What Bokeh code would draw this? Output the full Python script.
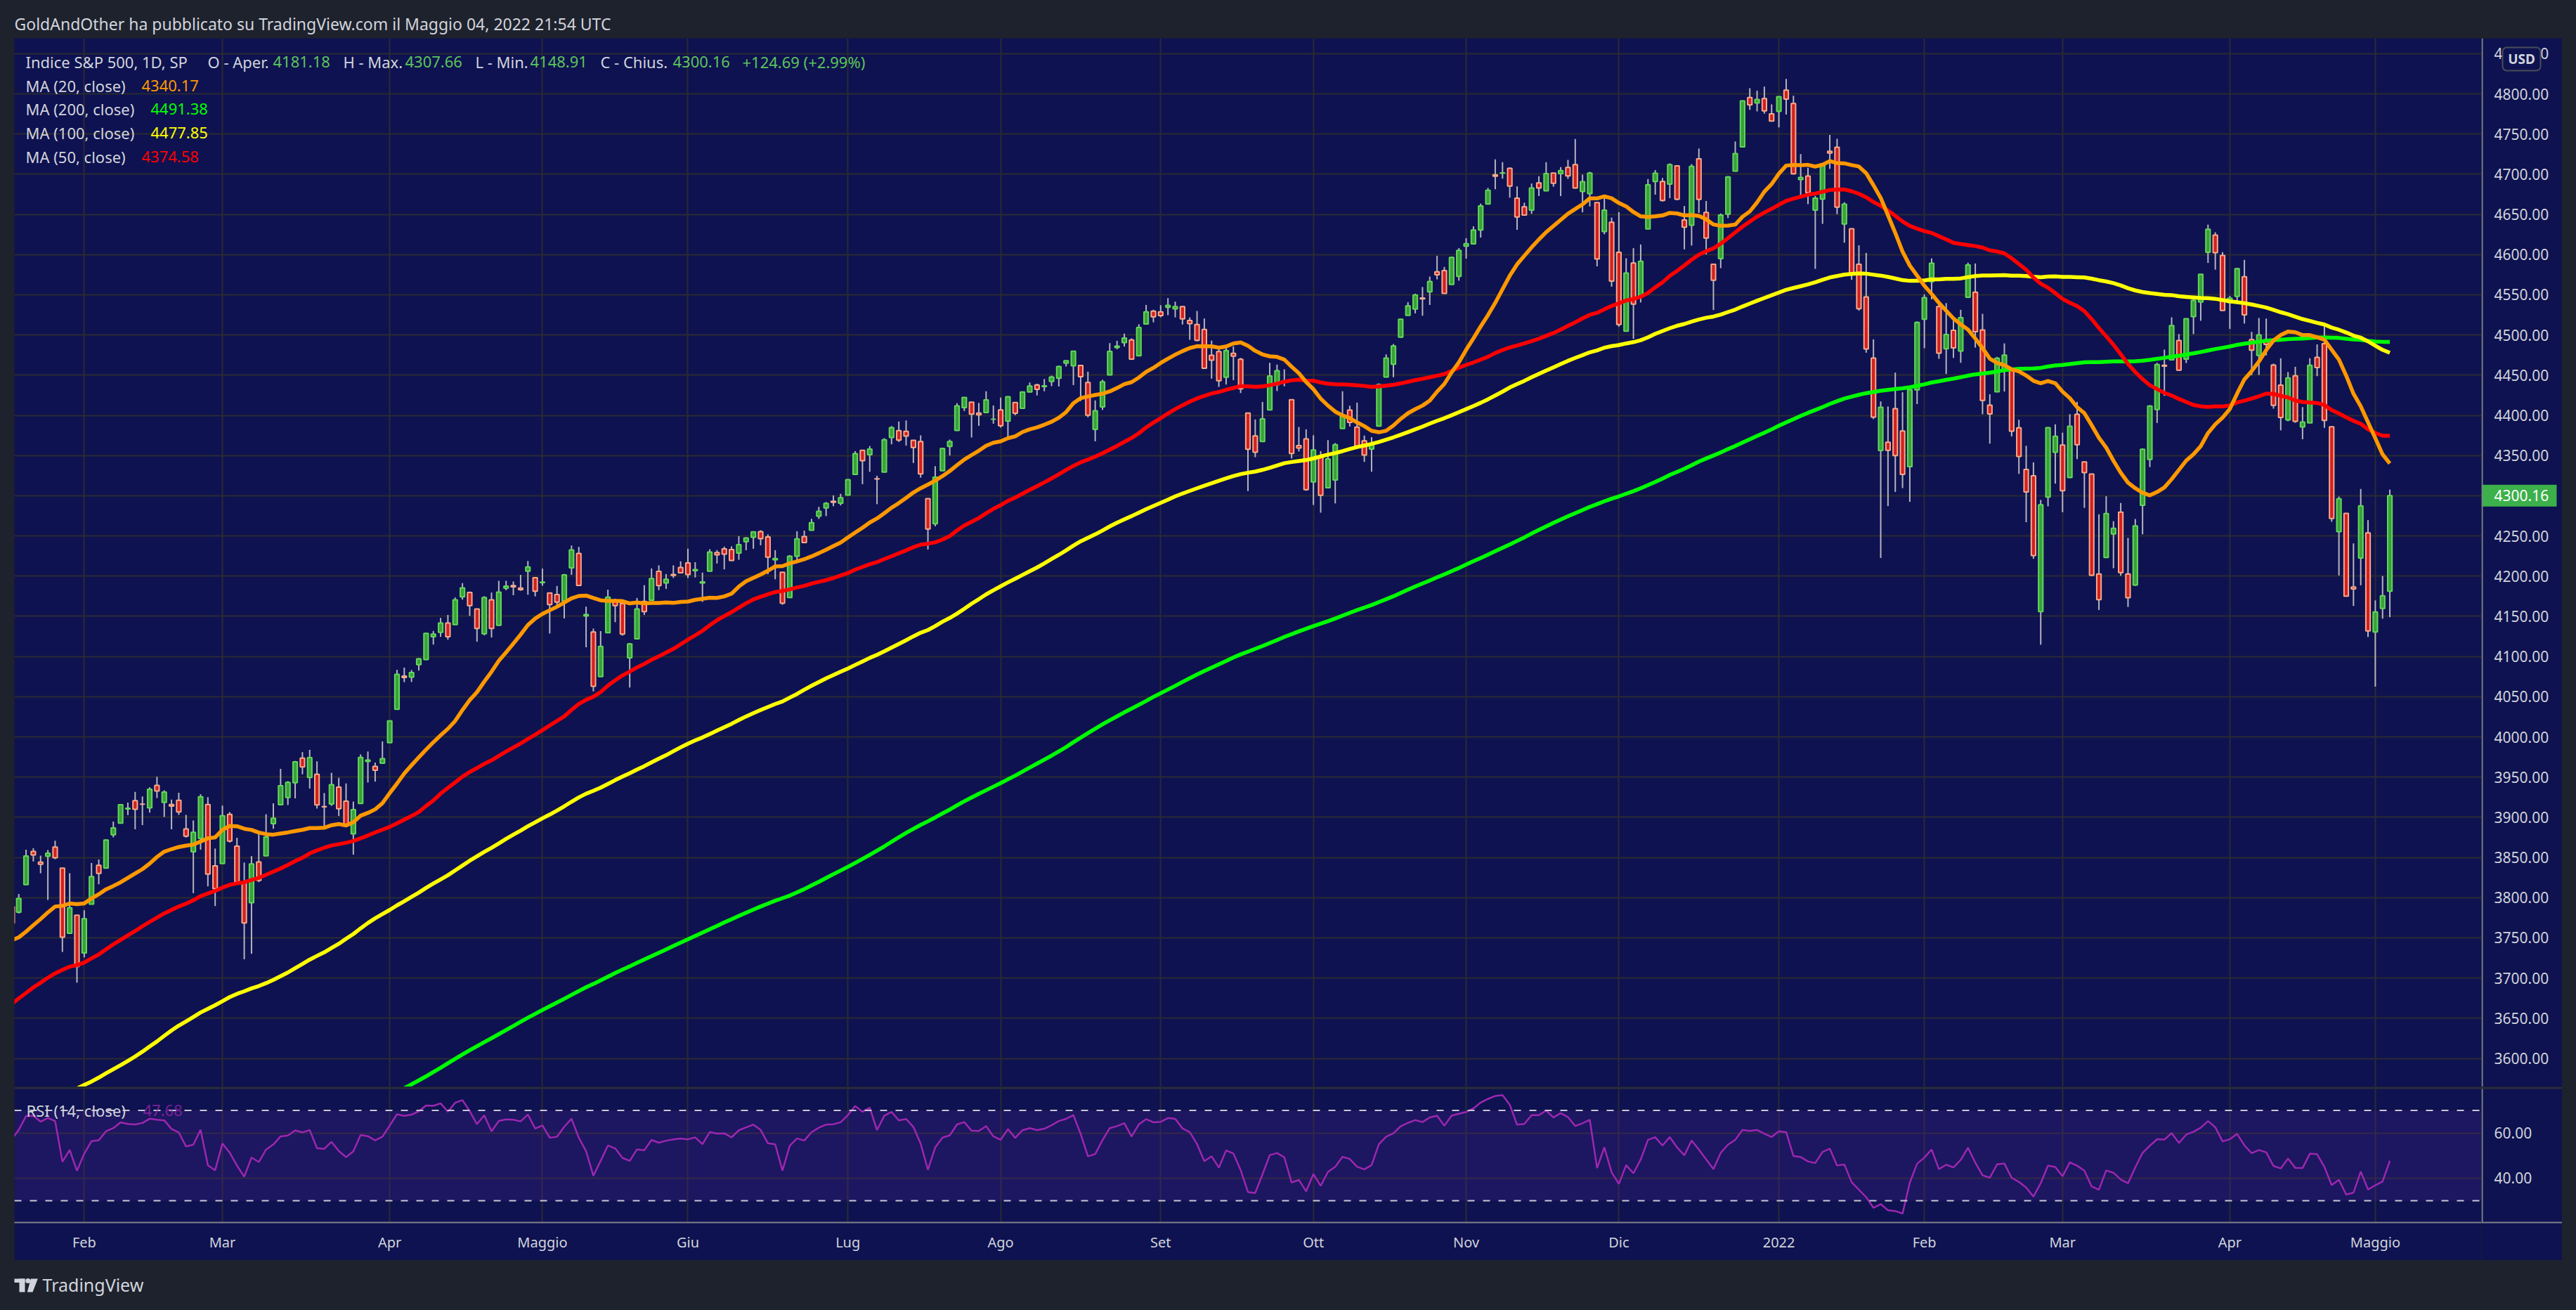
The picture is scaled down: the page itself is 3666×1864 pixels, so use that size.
import numpy as np
import pandas as pd
from bokeh.plotting import figure
from bokeh.models import (ColumnDataSource, Range1d, FixedTicker, Label, Span,
                          BoxAnnotation, Spacer, LinearAxis)
from bokeh.layouts import column, row
from bokeh.embed import file_html
from bokeh.resources import INLINE
from bokeh.core.properties import value

FONT = "Noto Sans"
BG = "#1e222d"
NAVY = "#0e1250"
TXT = "#d1d4dc"
GRID = "#2a2a33"
SEP = "#80828c"

# ---------------- data ----------------
holidays = ["2020-04-10", "2020-05-25", "2020-07-03", "2020-09-07", "2020-11-26", "2020-12-25",
            "2021-01-01", "2021-01-18", "2021-02-15", "2021-04-02", "2021-05-31", "2021-07-05",
            "2021-09-06", "2021-11-25", "2021-12-24", "2022-01-17", "2022-02-21", "2022-04-15"]

# daily closes 2020-04-01 .. 2021-01-14 (only used to warm up the averages / RSI)
history_closes = [
    2470.50, 2526.90, 2488.65, 2663.68, 2659.41, 2749.98, 2789.82, 2761.63, 2846.06, 2783.36, 2799.55,
    2874.56, 2823.16, 2736.56, 2799.31, 2797.80, 2836.74, 2878.48, 2863.39, 2939.51, 2912.43,
    2830.71, 2842.74, 2868.44, 2848.42, 2881.19, 2929.80, 2930.32, 2870.12, 2820.00, 2852.50,
    2863.70, 2953.91, 2922.94, 2971.61, 2948.51, 2955.45, 2991.77, 3036.13, 3029.73, 3044.31,
    3055.73, 3080.82, 3122.87, 3112.35, 3193.93, 3232.39, 3207.18, 3190.14, 3002.10, 3041.31, 3066.59,
    3124.74, 3113.49, 3115.34, 3097.74, 3117.86, 3131.29, 3050.33, 3083.76, 3009.05, 3053.24, 3100.29,
    3115.86, 3130.01, 3179.72, 3145.32, 3169.94, 3152.05, 3185.04, 3155.22, 3197.52, 3226.56, 3215.57,
    3224.73, 3251.84, 3257.30, 3276.02, 3235.66, 3215.63, 3239.41, 3218.44, 3258.44, 3246.22, 3271.12,
    3294.61, 3306.51, 3327.77, 3349.16, 3351.28, 3360.47, 3333.69, 3380.35, 3373.43, 3372.85, 3381.99,
    3389.78, 3374.85, 3385.51, 3397.16, 3431.28, 3443.62, 3478.73, 3484.55, 3508.01, 3500.31,
    3526.65, 3580.84, 3455.06, 3426.96, 3331.84, 3398.96, 3339.19, 3340.97, 3383.54, 3401.20, 3385.49,
    3357.01, 3319.47, 3281.06, 3315.57, 3236.92, 3246.59, 3298.46, 3351.60, 3335.47, 3363.00,
    3380.80, 3348.42, 3408.60, 3360.97, 3419.44, 3446.83, 3477.14, 3534.22, 3511.93, 3488.67, 3483.34,
    3483.81, 3426.92, 3443.12, 3435.56, 3453.49, 3465.39, 3400.97, 3390.68, 3271.03, 3310.11, 3269.96,
    3310.24, 3369.16, 3443.44, 3510.45, 3509.44, 3550.50, 3545.53, 3572.66, 3537.01, 3585.15,
    3626.91, 3609.53, 3567.79, 3581.87, 3557.54, 3577.59, 3635.41, 3629.65, 3638.35, 3621.63,
    3662.45, 3669.01, 3666.72, 3699.12, 3691.96, 3702.25, 3672.82, 3668.10, 3663.46, 3647.49, 3694.62,
    3701.17, 3722.48, 3709.41, 3694.92, 3687.26, 3690.01, 3703.06, 3735.36, 3727.04, 3732.04, 3756.07,
    3700.65, 3726.86, 3748.14, 3803.79, 3824.68, 3799.61, 3801.19, 3809.84, 3795.54,
]

# visible daily bars 2021-01-15 .. 2022-05-04
opens = [
    3788.73, 3781.88, 3816.22, 3857.46, 3844.24, 3851.68, 3862.96, 3836.83, 3755.75, 3778.05,
    3731.17, 3791.84, 3840.27, 3836.66, 3878.30, 3892.59, 3910.49, 3920.78, 3916.40, 3911.65, 3939.61, 3918.50, 3915.86, 3921.16, 3885.55, 3857.07, 3873.71, 3915.80, 3839.66,
    3842.51, 3903.64, 3863.99, 3818.53, 3793.58, 3844.39, 3851.93, 3891.99, 3915.54, 3924.52, 3942.96, 3973.59, 3949.57, 3953.50, 3913.14, 3916.48, 3937.60, 3919.93, 3879.34, 3917.12, 3969.31, 3963.34, 3967.25,
    3992.78, 4034.44, 4075.57, 4074.29, 4089.95, 4096.11, 4124.71, 4130.10, 4141.58, 4139.76, 4174.14, 4179.80, 4159.18, 4128.42, 4170.46, 4138.78, 4185.03, 4188.25, 4185.14, 4206.14, 4198.10,
    4191.98, 4179.04, 4177.06, 4169.14, 4210.34, 4228.29, 4150.34, 4130.55, 4074.99, 4129.58, 4169.92, 4165.94, 4098.45, 4121.97, 4168.61, 4170.16, 4205.94, 4191.59, 4201.94, 4210.77,
    4216.52, 4206.82, 4191.43, 4206.05, 4229.34, 4233.81, 4232.99, 4228.56, 4242.90, 4248.31, 4255.28, 4248.87, 4220.37, 4204.78, 4173.40, 4224.61, 4249.27, 4256.97, 4274.45, 4284.90, 4293.21, 4290.65,
    4300.73, 4326.60, 4356.46, 4351.01, 4321.07, 4329.38, 4372.41, 4381.07, 4380.11, 4369.02, 4367.43, 4296.40, 4265.11, 4331.13, 4361.27, 4381.20, 4409.58, 4416.38, 4402.95, 4403.59, 4395.12,
    4406.86, 4392.74, 4415.95, 4408.86, 4429.07, 4437.77, 4435.79, 4442.18, 4446.08, 4464.84, 4461.65, 4462.12, 4440.94, 4382.44, 4410.56, 4450.29, 4484.40, 4490.45, 4493.75, 4474.10, 4513.76, 4529.75,
    4528.80, 4534.48, 4532.42, 4535.38, 4518.09, 4513.02, 4506.92, 4474.81, 4479.33, 4447.49, 4477.09, 4469.74, 4402.95, 4374.45, 4367.43, 4406.75, 4438.04, 4442.12, 4419.54, 4362.41, 4370.67,
    4317.16, 4348.84, 4309.87, 4319.57, 4383.73, 4406.51, 4385.44, 4368.31, 4358.01, 4386.75, 4447.69, 4463.72, 4497.34, 4524.42, 4532.24, 4546.12, 4553.69, 4578.69, 4580.22, 4562.84, 4572.87,
    4610.62, 4613.34, 4630.65, 4662.93, 4699.26, 4701.48, 4707.25, 4670.26, 4659.39, 4655.24, 4689.30, 4679.42, 4701.50, 4700.72, 4708.44, 4712.00, 4678.48, 4675.78, 4664.63, 4628.75, 4640.25,
    4602.82, 4504.73, 4589.49, 4548.37, 4631.97, 4690.86, 4691.00, 4687.64, 4710.30, 4642.99, 4636.46, 4719.13, 4652.50, 4587.90, 4594.96, 4650.36, 4703.96, 4733.99, 4795.49, 4788.64, 4794.23, 4775.21,
    4778.14, 4804.51, 4787.99, 4693.39, 4697.66, 4655.34, 4669.14, 4728.59, 4733.56, 4637.99, 4632.24, 4588.03, 4547.35, 4471.38, 4356.32, 4366.64, 4408.43, 4380.58, 4336.19, 4431.79,
    4519.57, 4566.39, 4535.41, 4482.79, 4505.75, 4480.02, 4547.00, 4553.24, 4506.27, 4412.61, 4429.28, 4455.75, 4456.06, 4384.57, 4332.74, 4324.93, 4155.77, 4298.38, 4354.17,
    4363.14, 4322.56, 4401.31, 4342.12, 4327.01, 4202.66, 4223.10, 4252.55, 4279.50, 4202.75, 4188.82, 4288.14, 4345.11, 4407.34, 4462.40, 4469.10, 4493.10, 4469.98, 4522.91, 4541.09, 4602.86, 4624.20, 4599.02,
    4540.32, 4547.97, 4572.45, 4494.17, 4474.65, 4494.15, 4462.64, 4437.59, 4394.30, 4449.12, 4385.63, 4390.63, 4472.26, 4489.17, 4385.83, 4255.34, 4278.14, 4186.52, 4222.58, 4253.75,
    4130.61, 4159.78, 4181.18,
]
highs = [
    3788.73, 3804.53, 3859.75, 3861.45, 3852.31, 3859.23, 3870.90, 3836.83, 3830.50, 3778.05,
    3784.32, 3843.09, 3847.51, 3872.42, 3894.56, 3915.77, 3918.35, 3931.50, 3925.99, 3937.23, 3950.43, 3933.61, 3921.98, 3930.41, 3902.92, 3895.98, 3928.65, 3925.02, 3861.08,
    3914.50, 3906.41, 3874.47, 3843.67, 3851.69, 3881.06, 3903.76, 3917.35, 3960.27, 3944.99, 3970.08, 3981.04, 3983.87, 3969.62, 3930.12, 3955.31, 3949.13, 3942.08, 3919.54, 3978.19, 3981.83, 3968.01, 3994.41,
    4020.63, 4083.42, 4086.23, 4083.13, 4098.19, 4129.48, 4131.76, 4148.00, 4151.69, 4173.49, 4191.31, 4180.81, 4159.18, 4175.02, 4179.57, 4194.17, 4194.19, 4193.35, 4201.53, 4218.78, 4198.10,
    4209.39, 4179.04, 4187.72, 4202.70, 4238.04, 4236.39, 4162.04, 4134.73, 4131.58, 4183.13, 4171.92, 4169.15, 4116.93, 4172.80, 4188.72, 4209.52, 4213.42, 4202.61, 4213.38, 4218.36,
    4234.12, 4217.37, 4204.39, 4233.45, 4232.34, 4236.74, 4237.09, 4249.74, 4248.38, 4255.59, 4257.16, 4251.89, 4232.29, 4204.78, 4226.24, 4255.84, 4256.60, 4271.28, 4286.12, 4292.14, 4300.52, 4302.43,
    4320.66, 4355.43, 4356.46, 4361.88, 4324.81, 4371.60, 4386.68, 4392.37, 4393.68, 4369.02, 4375.09, 4296.40, 4336.84, 4359.70, 4369.87, 4415.18, 4422.73, 4416.38, 4415.47, 4429.97, 4412.25,
    4422.18, 4423.79, 4416.17, 4429.76, 4440.82, 4439.39, 4445.21, 4449.44, 4461.77, 4468.37, 4480.26, 4462.12, 4454.32, 4418.61, 4444.35, 4489.88, 4492.81, 4501.71, 4495.90, 4513.33, 4537.36, 4531.39,
    4537.11, 4545.85, 4541.45, 4535.38, 4521.79, 4529.90, 4520.47, 4492.99, 4485.68, 4486.87, 4485.87, 4471.52, 4402.95, 4394.87, 4416.75, 4465.40, 4463.12, 4457.30, 4419.54, 4385.57, 4382.55,
    4375.19, 4355.51, 4369.23, 4365.57, 4429.97, 4412.02, 4415.88, 4374.89, 4372.87, 4439.73, 4475.82, 4488.75, 4520.40, 4540.87, 4551.44, 4559.67, 4572.62, 4598.53, 4584.57, 4597.55, 4608.08,
    4620.34, 4635.15, 4663.46, 4683.00, 4718.50, 4714.92, 4708.53, 4684.85, 4664.55, 4688.47, 4697.42, 4714.95, 4701.50, 4708.80, 4717.75, 4743.83, 4699.39, 4702.87, 4664.63, 4672.95, 4646.02,
    4652.94, 4595.46, 4608.03, 4612.60, 4694.04, 4705.06, 4695.26, 4713.57, 4710.30, 4660.47, 4712.60, 4731.99, 4666.70, 4587.90, 4651.14, 4697.67, 4740.74, 4791.49, 4807.02, 4804.06, 4808.93, 4786.83,
    4796.64, 4818.62, 4797.70, 4725.01, 4707.95, 4673.02, 4714.13, 4748.83, 4744.13, 4665.13, 4632.24, 4611.55, 4602.11, 4494.52, 4417.35, 4411.01, 4453.23, 4428.74, 4432.72, 4516.89,
    4550.49, 4595.31, 4542.88, 4539.66, 4521.86, 4531.32, 4590.03, 4588.92, 4526.33, 4426.22, 4472.77, 4489.55, 4456.06, 4394.60, 4362.12, 4341.51, 4294.73, 4385.34, 4388.84,
    4378.45, 4401.48, 4416.78, 4342.12, 4327.01, 4276.94, 4299.40, 4268.28, 4291.01, 4247.57, 4271.05, 4358.90, 4412.67, 4465.40, 4481.75, 4522.00, 4501.07, 4520.58, 4546.03, 4575.65, 4637.30, 4627.77, 4603.07,
    4548.70, 4583.50, 4593.45, 4503.94, 4521.16, 4520.41, 4464.35, 4471.00, 4453.92, 4460.46, 4410.31, 4471.03, 4488.29, 4512.94, 4385.83, 4299.02, 4278.14, 4240.71, 4308.45, 4269.68,
    4169.81, 4200.10, 4307.66,
]
lows = [
    3749.72, 3780.37, 3816.22, 3845.05, 3830.41, 3797.16, 3847.78, 3732.48, 3755.75, 3694.12,
    3725.62, 3791.84, 3816.68, 3836.66, 3874.93, 3892.59, 3902.64, 3884.94, 3890.39, 3905.78, 3923.85, 3900.43, 3885.03, 3903.07, 3874.71, 3805.59, 3859.60, 3814.04, 3789.54,
    3842.51, 3868.57, 3818.86, 3723.34, 3730.19, 3819.25, 3851.93, 3885.73, 3915.54, 3915.21, 3923.54, 3953.44, 3935.74, 3910.86, 3886.75, 3914.16, 3901.57, 3889.07, 3853.50, 3917.12, 3943.25, 3944.35, 3966.98,
    3992.78, 4034.44, 4068.14, 4068.31, 4082.54, 4095.51, 4114.82, 4124.43, 4120.87, 4139.76, 4170.75, 4150.47, 4118.38, 4126.35, 4123.69, 4138.78, 4182.36, 4176.22, 4181.78, 4176.81, 4174.85,
    4188.03, 4128.59, 4160.94, 4147.33, 4201.64, 4188.13, 4111.53, 4056.59, 4074.99, 4129.58, 4142.69, 4125.99, 4061.41, 4121.97, 4151.72, 4170.16, 4182.52, 4184.11, 4197.78, 4203.57,
    4197.59, 4198.27, 4167.93, 4206.05, 4215.66, 4208.41, 4218.74, 4220.34, 4232.25, 4234.07, 4238.35, 4202.45, 4196.05, 4164.40, 4173.40, 4217.27, 4241.43, 4256.97, 4271.16, 4274.67, 4287.04, 4287.96,
    4300.73, 4326.60, 4314.37, 4329.79, 4289.52, 4329.38, 4364.03, 4366.92, 4362.36, 4340.70, 4322.53, 4233.13, 4262.05, 4331.13, 4350.06, 4381.20, 4405.45, 4372.51, 4387.01, 4403.59, 4389.65,
    4384.81, 4373.00, 4400.23, 4408.86, 4429.07, 4424.74, 4430.03, 4436.42, 4435.96, 4460.82, 4437.66, 4417.83, 4397.59, 4367.73, 4406.80, 4450.29, 4482.28, 4485.66, 4468.99, 4474.10, 4513.76, 4515.80,
    4522.02, 4524.66, 4521.94, 4513.00, 4493.95, 4492.07, 4457.66, 4445.70, 4435.46, 4438.37, 4443.80, 4427.76, 4305.91, 4347.96, 4367.43, 4406.75, 4430.27, 4436.19, 4346.33, 4355.08, 4306.24,
    4288.52, 4278.94, 4309.87, 4290.49, 4383.73, 4386.22, 4360.59, 4342.09, 4329.92, 4386.75, 4447.69, 4447.47, 4496.41, 4524.40, 4526.89, 4524.00, 4537.36, 4569.17, 4551.66, 4562.84, 4567.59,
    4595.06, 4613.34, 4621.19, 4662.59, 4681.32, 4694.39, 4670.87, 4630.86, 4648.31, 4650.77, 4672.86, 4679.42, 4684.41, 4672.78, 4694.22, 4682.17, 4652.66, 4659.89, 4585.43, 4625.26, 4560.00,
    4510.27, 4504.73, 4495.12, 4540.51, 4631.97, 4674.52, 4665.98, 4670.24, 4667.60, 4606.52, 4611.22, 4651.89, 4600.22, 4531.10, 4583.16, 4645.53, 4703.96, 4733.99, 4780.04, 4778.08, 4775.33, 4765.75,
    4758.17, 4774.27, 4699.44, 4671.26, 4662.74, 4582.24, 4638.27, 4706.71, 4650.29, 4614.75, 4568.70, 4530.20, 4477.95, 4395.34, 4222.62, 4287.11, 4304.80, 4309.50, 4292.46, 4414.02,
    4483.53, 4544.32, 4470.39, 4451.50, 4471.47, 4465.40, 4547.00, 4484.31, 4401.41, 4364.84, 4429.28, 4429.68, 4373.81, 4327.22, 4267.11, 4221.51, 4114.65, 4286.83, 4315.12,
    4279.54, 4322.56, 4345.56, 4284.98, 4199.85, 4157.87, 4223.10, 4209.80, 4200.49, 4161.72, 4187.90, 4251.99, 4335.65, 4390.57, 4424.30, 4469.10, 4455.81, 4465.17, 4501.07, 4517.69, 4589.66, 4581.32, 4530.41,
    4507.57, 4539.21, 4514.17, 4450.04, 4450.30, 4474.60, 4408.38, 4381.34, 4392.70, 4390.77, 4370.30, 4390.63, 4448.76, 4384.47, 4267.62, 4200.82, 4175.04, 4162.90, 4188.63, 4124.28,
    4062.51, 4147.08, 4148.91,
]
closes = [
    3768.25, 3798.91, 3851.85, 3853.07, 3841.47, 3855.36, 3849.62, 3750.77, 3787.38, 3714.24,
    3773.86, 3826.31, 3830.17, 3871.74, 3886.83, 3915.59, 3911.23, 3909.88, 3916.38, 3934.83, 3932.59, 3931.33, 3913.97, 3906.71, 3876.50, 3881.37, 3925.43, 3829.34, 3811.15,
    3901.82, 3870.29, 3819.72, 3768.47, 3841.94, 3821.35, 3875.44, 3898.81, 3939.34, 3943.34, 3968.94, 3962.71, 3974.12, 3915.46, 3913.10, 3940.59, 3910.52, 3889.14, 3909.52, 3974.54, 3971.09, 3958.55, 3972.89,
    4019.87, 4077.91, 4073.94, 4079.95, 4097.17, 4128.80, 4127.99, 4141.59, 4124.66, 4170.42, 4185.47, 4163.26, 4134.94, 4173.42, 4134.98, 4180.17, 4187.62, 4186.72, 4183.18, 4211.47, 4181.17,
    4192.66, 4164.66, 4167.59, 4201.62, 4232.60, 4188.43, 4152.10, 4063.04, 4112.50, 4173.85, 4163.29, 4127.83, 4115.68, 4159.12, 4155.86, 4197.05, 4188.13, 4195.99, 4200.88, 4204.11,
    4202.04, 4208.12, 4192.85, 4229.89, 4226.52, 4227.26, 4219.55, 4239.18, 4247.44, 4255.15, 4246.59, 4223.70, 4221.86, 4166.45, 4224.79, 4246.44, 4241.84, 4266.49, 4280.70, 4290.61, 4291.80, 4297.50,
    4319.94, 4352.34, 4343.54, 4358.13, 4320.82, 4369.55, 4384.63, 4369.21, 4374.30, 4360.03, 4327.16, 4258.49, 4323.06, 4358.69, 4367.48, 4411.79, 4422.30, 4401.46, 4400.64, 4419.15, 4395.26,
    4387.16, 4423.15, 4402.66, 4429.10, 4436.52, 4432.35, 4436.75, 4447.70, 4460.83, 4468.00, 4479.71, 4448.08, 4400.27, 4405.80, 4441.67, 4479.53, 4486.23, 4496.19, 4470.00, 4509.37, 4528.79, 4522.68,
    4524.09, 4536.95, 4535.43, 4520.03, 4514.07, 4493.28, 4458.58, 4468.73, 4443.05, 4480.70, 4473.75, 4432.99, 4357.73, 4354.19, 4395.64, 4448.98, 4455.48, 4443.11, 4352.63, 4359.46, 4307.54,
    4357.04, 4300.46, 4345.72, 4363.55, 4399.76, 4391.34, 4361.19, 4350.65, 4363.80, 4438.26, 4471.37, 4486.46, 4519.63, 4536.19, 4549.78, 4544.90, 4566.48, 4574.79, 4551.68, 4596.42, 4605.38,
    4613.67, 4630.65, 4660.57, 4680.06, 4697.53, 4701.70, 4685.25, 4646.71, 4649.27, 4682.85, 4682.80, 4700.90, 4688.67, 4704.54, 4697.96, 4682.94, 4690.70, 4701.46, 4594.62, 4655.27, 4567.00,
    4513.04, 4577.10, 4538.43, 4591.67, 4686.75, 4701.21, 4667.45, 4712.02, 4668.97, 4634.09, 4709.85, 4668.67, 4620.64, 4568.02, 4649.23, 4696.56, 4725.79, 4791.19, 4786.35, 4793.06, 4778.73, 4766.18,
    4796.56, 4793.54, 4700.58, 4696.05, 4677.03, 4670.29, 4713.07, 4726.35, 4659.03, 4662.85, 4577.11, 4532.76, 4482.73, 4397.94, 4410.13, 4356.45, 4349.93, 4326.51, 4431.85, 4515.55,
    4546.54, 4589.38, 4477.44, 4500.53, 4483.87, 4521.54, 4587.18, 4504.08, 4418.64, 4401.67, 4471.07, 4475.01, 4380.26, 4348.87, 4304.76, 4225.50, 4288.70, 4384.65, 4373.94,
    4306.26, 4386.54, 4363.49, 4328.87, 4201.09, 4170.70, 4277.88, 4259.52, 4204.31, 4173.11, 4262.45, 4357.86, 4411.67, 4463.12, 4461.18, 4511.61, 4456.24, 4520.16, 4543.06, 4575.52, 4631.60, 4602.45, 4530.41,
    4545.86, 4582.64, 4525.12, 4481.15, 4500.21, 4488.28, 4412.53, 4397.45, 4446.59, 4392.59, 4391.69, 4462.21, 4459.45, 4393.66, 4271.78, 4296.12, 4175.20, 4183.96, 4287.50, 4131.93,
    4155.38, 4175.47, 4300.16,
]

month_keys = ["2021-02", "2021-03", "2021-04", "2021-05", "2021-06", "2021-07", "2021-08", "2021-09",
              "2021-10", "2021-11", "2021-12", "2022-01", "2022-02", "2022-03", "2022-04", "2022-05"]
month_labels = ["Feb", "Mar", "Apr", "Maggio", "Giu", "Lug", "Ago", "Set",
                "Ott", "Nov", "Dic", "2022", "Feb", "Mar", "Apr", "Maggio"]
price_ticks = list(range(3600, 4851, 50))
rsi_ticks = [40, 60]
last_price_text = "4300.16"

header_text = "GoldAndOther ha pubblicato su TradingView.com il Maggio 04, 2022 21:54 UTC"
ohlc_legend = [("Indice S&P 500, 1D, SP", 36, TXT), ("O - Aper.", 295, TXT), ("4181.18", 388, "#5cc45a"),
               ("H - Max.", 488, TXT), ("4307.66", 576, "#5cc45a"), ("L - Min.", 676, TXT),
               ("4148.91", 754, "#5cc45a"), ("C - Chius.", 854, TXT), ("4300.16", 957, "#5cc45a"),
               ("+124.69 (+2.99%)", 1056, "#5cc45a")]
ma_legend = [("MA (20, close)", "4340.17", "#ff9800", 201, 121),
             ("MA (200, close)", "4491.38", "#00ff00", 214, 154),
             ("MA (100, close)", "4477.85", "#ffff00", 214, 188),
             ("MA (50, close)", "4374.58", "#ff0000", 201, 222)]
ma_styles = [(200, "#00ff00"), (100, "#ffff00"), (50, "#ff0000"), (20, "#ff9800")]

# ---------------- derived ----------------
n = min(len(opens), len(highs), len(lows), len(closes))
h0 = len(history_closes)
all_closes = np.array(history_closes + closes[:n], dtype=float)
N = len(all_closes)
dates = pd.bdate_range("2020-04-01", periods=N, freq="C", holidays=holidays)
xs = np.arange(N)
per = np.array(dates.to_period("M").astype(str))
tick_pos = [int(np.argmax(per == k)) for k in month_keys]

s = pd.Series(all_closes)
mas = {k: s.rolling(k).mean().to_numpy() for k in (20, 50, 100, 200)}
d = s.diff().fillna(0.0)
up = d.clip(lower=0).ewm(alpha=1 / 14, adjust=False).mean()
dn = (-d.clip(upper=0)).ewm(alpha=1 / 14, adjust=False).mean()
rsi = (100 - 100 / (1 + up / dn)).to_numpy()

o = np.array(opens[:n]); hi = np.array(highs[:n]); lo = np.array(lows[:n]); c = np.array(closes[:n])
rise = c >= o
src = ColumnDataSource(dict(
    x=xs[h0:], lo=lo, hi=hi,
    top=np.maximum(o, c), bot=np.minimum(o, c),
    fill=np.where(rise, "#3aa03a", "#d21f1f"),
    line=np.where(rise, "#62d65a", "#f6aa8c"),
))

# ---------------- geometry (page pixels) ----------------
PAGE_W, PAGE_H = 3666, 1864
LEFT = 20
FW = 3511          # plot frame width (x 20 .. 3531)
SW = 115           # price scale strip (x 3531 .. 3646)
HDR_H = 54
MAIN_H = 1492      # y 54 .. 1546
RSI_H = 247        # y 1546 .. 1793 (frame 193 + time axis 54)
XAX_H = 54
FTR_H = PAGE_H - HDR_H - MAIN_H - RSI_H
Y_BOT, Y_TOP = 3564.6, 4869.1
R_BOT, R_TOP = 20.4, 80.4
r_px = (RSI_H - XAX_H) / (R_TOP - R_BOT)

feb1 = tick_pos[0]
xr = Range1d(feb1 - 9.6, feb1 + 329.6)
yr = Range1d(Y_BOT, Y_TOP)
ryr = Range1d(R_BOT, R_TOP)


def lab(fig, text, x, y, color, size="22px", **kw):
    fig.add_layout(Label(x=x, y=y, x_units="screen", y_units="screen", text=text,
                         text_color=color, text_font=FONT, text_font_size=size,
                         text_baseline="middle", **kw))


def panel(w, h, x_range, y_range, bottom=0):
    f = figure(width=w, height=h, x_range=x_range, y_range=y_range,
               x_axis_location=None, y_axis_location=None, toolbar_location=None,
               output_backend="svg", background_fill_color=NAVY, border_fill_color=NAVY,
               outline_line_color=None, min_border_left=0, min_border_right=0,
               min_border_top=0, min_border_bottom=bottom)
    return f


def time_axis(ticks, overrides):
    ax = LinearAxis(ticker=FixedTicker(ticks=ticks))
    ax.major_label_overrides = overrides
    ax.axis_line_color = SEP
    ax.axis_line_width = 2
    ax.major_tick_line_color = None
    ax.minor_tick_line_color = None
    ax.major_tick_out = 0
    ax.major_tick_in = 0
    ax.major_label_text_color = TXT
    ax.major_label_text_font = FONT
    ax.major_label_text_font_size = "20px"
    ax.major_label_standoff = 14
    return ax


# ---------------- main pane ----------------
p = panel(FW, MAIN_H, xr, yr)
p.xgrid.ticker = FixedTicker(ticks=tick_pos)
p.ygrid.ticker = FixedTicker(ticks=price_ticks)
p.grid.grid_line_color = GRID
p.grid.grid_line_width = 2

p.segment(x0="x", y0="lo", x1="x", y1="hi", source=src, line_color="#b4b4be", line_width=2)
p.vbar(x="x", width=0.6, top="top", bottom="bot", source=src,
       fill_color="fill", line_color="line", line_width=2)
for k, col in ma_styles:
    p.line(xs[h0:], mas[k][h0:], line_color=col, line_width=5.5, line_join="round")

for text, px, col in ohlc_legend:
    lab(p, text, px - LEFT, (HDR_H + MAIN_H) - 87, col)
for name, val, col, vx, py in ma_legend:
    lab(p, name, 36 - LEFT, (HDR_H + MAIN_H) - py, TXT)
    lab(p, val, vx - LEFT, (HDR_H + MAIN_H) - py, col)

# ---------------- price scale strip ----------------
ps = panel(SW, MAIN_H, Range1d(0, SW), yr)
ps.grid.visible = False
ps.text(x=[18] * len(price_ticks), y=price_ticks, text=[f"{t:.2f}" for t in price_ticks],
        text_font=value(FONT), text_font_size="21px", text_color=TXT, text_baseline="middle")
ps.rect(x=[53.5], y=[c[-1]], width=107, height=31, height_units="screen",
        fill_color="#3cb04a", line_color=None)
ps.text(x=[18], y=[c[-1]], text=[last_price_text], text_font=value(FONT), text_font_size="21px",
        text_color="#ffffff", text_baseline="middle")
y_usd = Y_TOP - (83.5 - HDR_H) * (Y_TOP - Y_BOT) / MAIN_H
usd_kw = dict(x=[57], y=[y_usd], width=54, height=33, height_units="screen",
              fill_color=NAVY, line_color="#4a4d58", line_width=2)
try:
    ps.rect(border_radius=6, **usd_kw)
except Exception:
    ps.rect(**usd_kw)
ps.text(x=[57], y=[y_usd], text=["USD"], text_font=value(FONT), text_font_size="19px",
        text_font_style="bold", text_color=TXT, text_align="center", text_baseline="middle")
ps.add_layout(Span(location=1, dimension="height", line_color=SEP, line_width=2))

# ---------------- RSI pane ----------------
pr = panel(FW, RSI_H, xr, ryr, bottom=XAX_H)
pr.add_layout(time_axis(tick_pos, {int(t): lbl for t, lbl in zip(tick_pos, month_labels)}), "below")
pr.xgrid.ticker = FixedTicker(ticks=tick_pos)
pr.ygrid.ticker = FixedTicker(ticks=rsi_ticks)
pr.grid.grid_line_color = GRID
pr.grid.grid_line_width = 2

pr.add_layout(BoxAnnotation(bottom=30, top=70, fill_color="#4b2290", fill_alpha=0.25,
                            line_color=None, level="underlay"))
for lv in (70, 30):
    pr.add_layout(Span(location=lv, dimension="width", line_color="#c9c9d2",
                       line_width=2, line_dash="10 12"))
pr.add_layout(Span(location=R_TOP - 1.5 / r_px, dimension="width", line_color="#2a2e39", line_width=3))
pr.line(xs[h0:], rsi[h0:], line_color="#9c27b0", line_width=2.5)
rsi_frame_bottom = HDR_H + MAIN_H + RSI_H - XAX_H
lab(pr, "RSI (14, close)", 37 - LEFT, rsi_frame_bottom - 1579, TXT)
lab(pr, "47.68", 203 - LEFT, rsi_frame_bottom - 1579, "#9c27b0", text_alpha=0.75)

# RSI price-scale strip (same frame as the RSI pane)
prs = panel(SW, RSI_H, Range1d(0, SW), ryr, bottom=XAX_H)
prs.add_layout(time_axis([], {}), "below")
prs.grid.visible = False
prs.text(x=[18] * len(rsi_ticks), y=rsi_ticks, text=[f"{t:.2f}" for t in rsi_ticks],
         text_font=value(FONT), text_font_size="21px", text_color=TXT, text_baseline="middle")
prs.add_layout(Span(location=1, dimension="height", line_color=SEP, line_width=2))
prs.add_layout(Span(location=R_TOP - 1.5 / r_px, dimension="width", line_color="#2a2e39", line_width=3))


# ---------------- header / footer ----------------
def blank(h):
    f = figure(width=PAGE_W, height=h, x_range=Range1d(0, PAGE_W), y_range=Range1d(0, h),
               x_axis_location=None, y_axis_location=None, toolbar_location=None,
               output_backend="svg", background_fill_color=BG, border_fill_color=BG,
               outline_line_color=None, min_border=0)
    f.grid.visible = False
    return f


hdr = blank(HDR_H)
lab(hdr, header_text, 20, HDR_H - 33, TXT, size="23px")

ftr = blank(FTR_H)
fy = lambda py: PAGE_H - py
ftr.quad(left=[20, 27], right=[35, 35], top=[fy(1819), fy(1819)], bottom=[fy(1824.5), fy(1838)],
         fill_color=TXT, line_color=None)
ftr.scatter([39.3], [fy(1822)], size=7, marker="circle", fill_color=TXT, line_color=None)
ftr.patch([43.3, 53.3, 46, 38.3], [fy(1819), fy(1819), fy(1838), fy(1838)], fill_color=TXT, line_color=None)
lab(ftr, "TradingView", 60, fy(1827), TXT, size="25px")

layout = column(hdr,
                row(Spacer(width=LEFT), column(row(p, ps), row(pr, prs))),
                ftr, styles={"background-color": BG})

open("out.html", "w").write(file_html(layout, INLINE))
